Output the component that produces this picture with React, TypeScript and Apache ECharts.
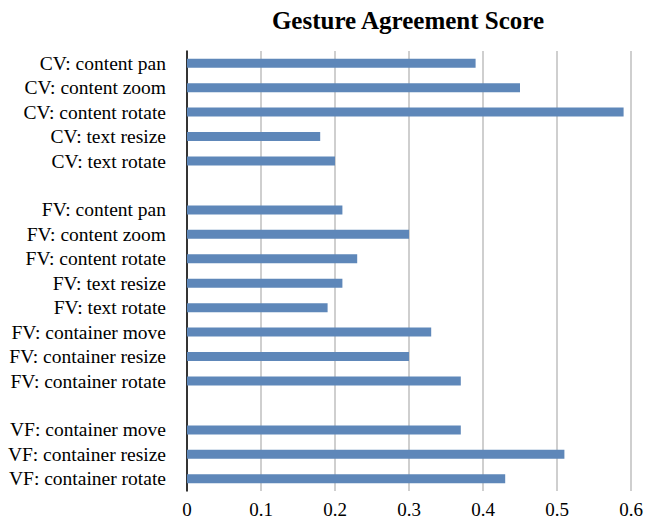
import React, { useEffect, useRef } from "react";
import * as echarts from "echarts";

const categories = [
  "CV: content pan",
  "CV: content zoom",
  "CV: content rotate",
  "CV: text resize",
  "CV: text rotate",
  "",
  "FV: content pan",
  "FV: content zoom",
  "FV: content rotate",
  "FV: text resize",
  "FV: text rotate",
  "FV: container move",
  "FV: container resize",
  "FV: container rotate",
  " ",
  "VF: container move",
  "VF: container resize",
  "VF: container rotate",
];

const scores: (number | null)[] = [
  0.39, 0.45, 0.59, 0.18, 0.2, null,
  0.21, 0.3, 0.23, 0.21, 0.19, 0.33, 0.3, 0.37, null,
  0.37, 0.51, 0.43,
];

const xTicks = [0, 0.1, 0.2, 0.3, 0.4, 0.5, 0.6];

const FONT = "'Liberation Serif', 'Times New Roman', serif";

export default function App() {
  const ref = useRef<HTMLDivElement>(null);
  useEffect(() => {
    if (!ref.current) return;
    const chart = echarts.init(ref.current, undefined, { renderer: "svg" });
    chart.setOption({
      animation: false,
      backgroundColor: "#ffffff",
      title: {
        text: "Gesture Agreement Score",
        left: 403,
        textAlign: "center",
        top: 3,
        textStyle: { fontFamily: FONT, fontSize: 25, fontWeight: "bold", color: "#000" },
      },
      grid: { left: 187, right: 15, top: 51, bottom: 29, containLabel: false },
      xAxis: {
        type: "value",
        min: xTicks[0],
        max: xTicks[xTicks.length - 1],
        interval: 0.1,
        axisLine: { show: false },
        axisTick: { show: false },
        splitLine: { show: true, lineStyle: { color: "#bfbfbf", width: 1.5 } },
        axisLabel: {
          fontFamily: FONT,
          fontSize: 19,
          color: "#000",
          margin: 9,
          formatter: (v: number) => String(Math.round(v * 10) / 10),
        },
      },
      yAxis: {
        type: "category",
        data: categories,
        inverse: true,
        axisLine: { show: true, lineStyle: { color: "#000", width: 1.5 } },
        axisTick: { show: false },
        axisLabel: { fontFamily: FONT, fontSize: 19.5, color: "#000", margin: 21, interval: 0 },
        splitLine: { show: false },
      },
      series: [
        {
          type: "bar",
          data: scores,
          barWidth: 9,
          itemStyle: { color: "#5E87B9" },
        },
      ],
    });
    return () => chart.dispose();
  }, []);
  return (
    <div
      ref={ref}
      style={{ position: "absolute", left: 0, top: 0, width: 646, height: 520 }}
    />
  );
}
